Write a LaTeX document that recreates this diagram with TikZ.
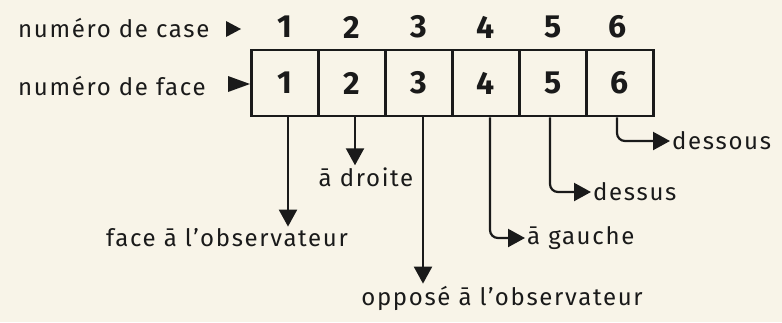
\documentclass[tikz,border=0pt]{standalone}
\usepackage{fontspec}
\setmainfont{Fira Sans}[LetterSpace=7]
\usetikzlibrary{arrows.meta}
\definecolor{paper}{HTML}{F8F4E8}
\definecolor{ink}{HTML}{1A1A1A}
\begin{document}
\begin{tikzpicture}[x=1pt,y=-1pt,
  txt/.style={font=\fontsize{24}{26}\selectfont, text=ink, inner sep=2pt},
  num/.style={font=\fontsize{32}{34}\selectfont\bfseries, text=ink, inner sep=0pt},
  cell/.style={draw=ink, line width=2.6pt, minimum width=67pt, minimum height=66pt,
               inner sep=0pt, font=\fontsize{32}{34}\selectfont\bfseries, text=ink},
  arr/.style={draw=ink, line width=2.2pt, rounded corners=8pt,
              -{Triangle[width=18pt,length=17pt]}}]
\useasboundingbox[fill=paper] (0,0) rectangle (782,322);

% cells
\node[cell] (c1) at (285,83) {1};
\node[cell] (c2) at (352,83) {2};
\node[cell] (c3) at (419,83) {3};
\node[cell] (c4) at (486,83) {4};
\node[cell] (c5) at (553,83) {5};
\node[cell] (c6) at (620,83) {6};

% case numbers
\node[num] (n1) at (285,27) {1};
\node[num] (n2) at (352,27) {2};
\node[num] (n3) at (419,27) {3};
\node[num] (n4) at (486,27) {4};
\node[num] (n5) at (553,27) {5};
\node[num] (n6) at (618,27) {6};

% left labels
\node[txt, anchor=west] (caselab) at (16,28) {numéro de case};
\node[txt, anchor=west] (facelab) at (16,86) {numéro de face};
\fill[ink] (226,21) -- (241,29) -- (226,37) -- cycle;
\fill[ink] (228,76) -- (250,84) -- (228,92) -- cycle;

% bottom labels
\node[txt] (lab1) at (227,238) {face ā l'observateur};
\node[txt] (lab2) at (366,177) {ā droite};
\node[txt] (lab3) at (502,298) {opposé ā l'observateur};
\node[txt, anchor=west] (lab4) at (525,238) {ā gauche};
\node[txt, anchor=west] (lab5) at (591,192) {dessus};
\node[txt, anchor=west] (lab6) at (670,141) {dessous};

% connectors
\draw[arr] ([xshift=3pt]c1.south) -- ([xshift=3pt]c1.south |- lab1.north);
\draw[arr] ([xshift=3pt]c2.south) -- ([xshift=3pt]c2.south |- lab2.north);
\draw[arr] ([xshift=4pt]c3.south) -- ([xshift=4pt]c3.south |- lab3.north);
\draw[arr] ([xshift=4pt]c4.south) |- (lab4.west);
\draw[arr] ([xshift=-3pt]c5.south) |- (lab5.west);
\draw[arr] ([xshift=-3pt]c6.south) |- (lab6.west);
\end{tikzpicture}
\end{document}
